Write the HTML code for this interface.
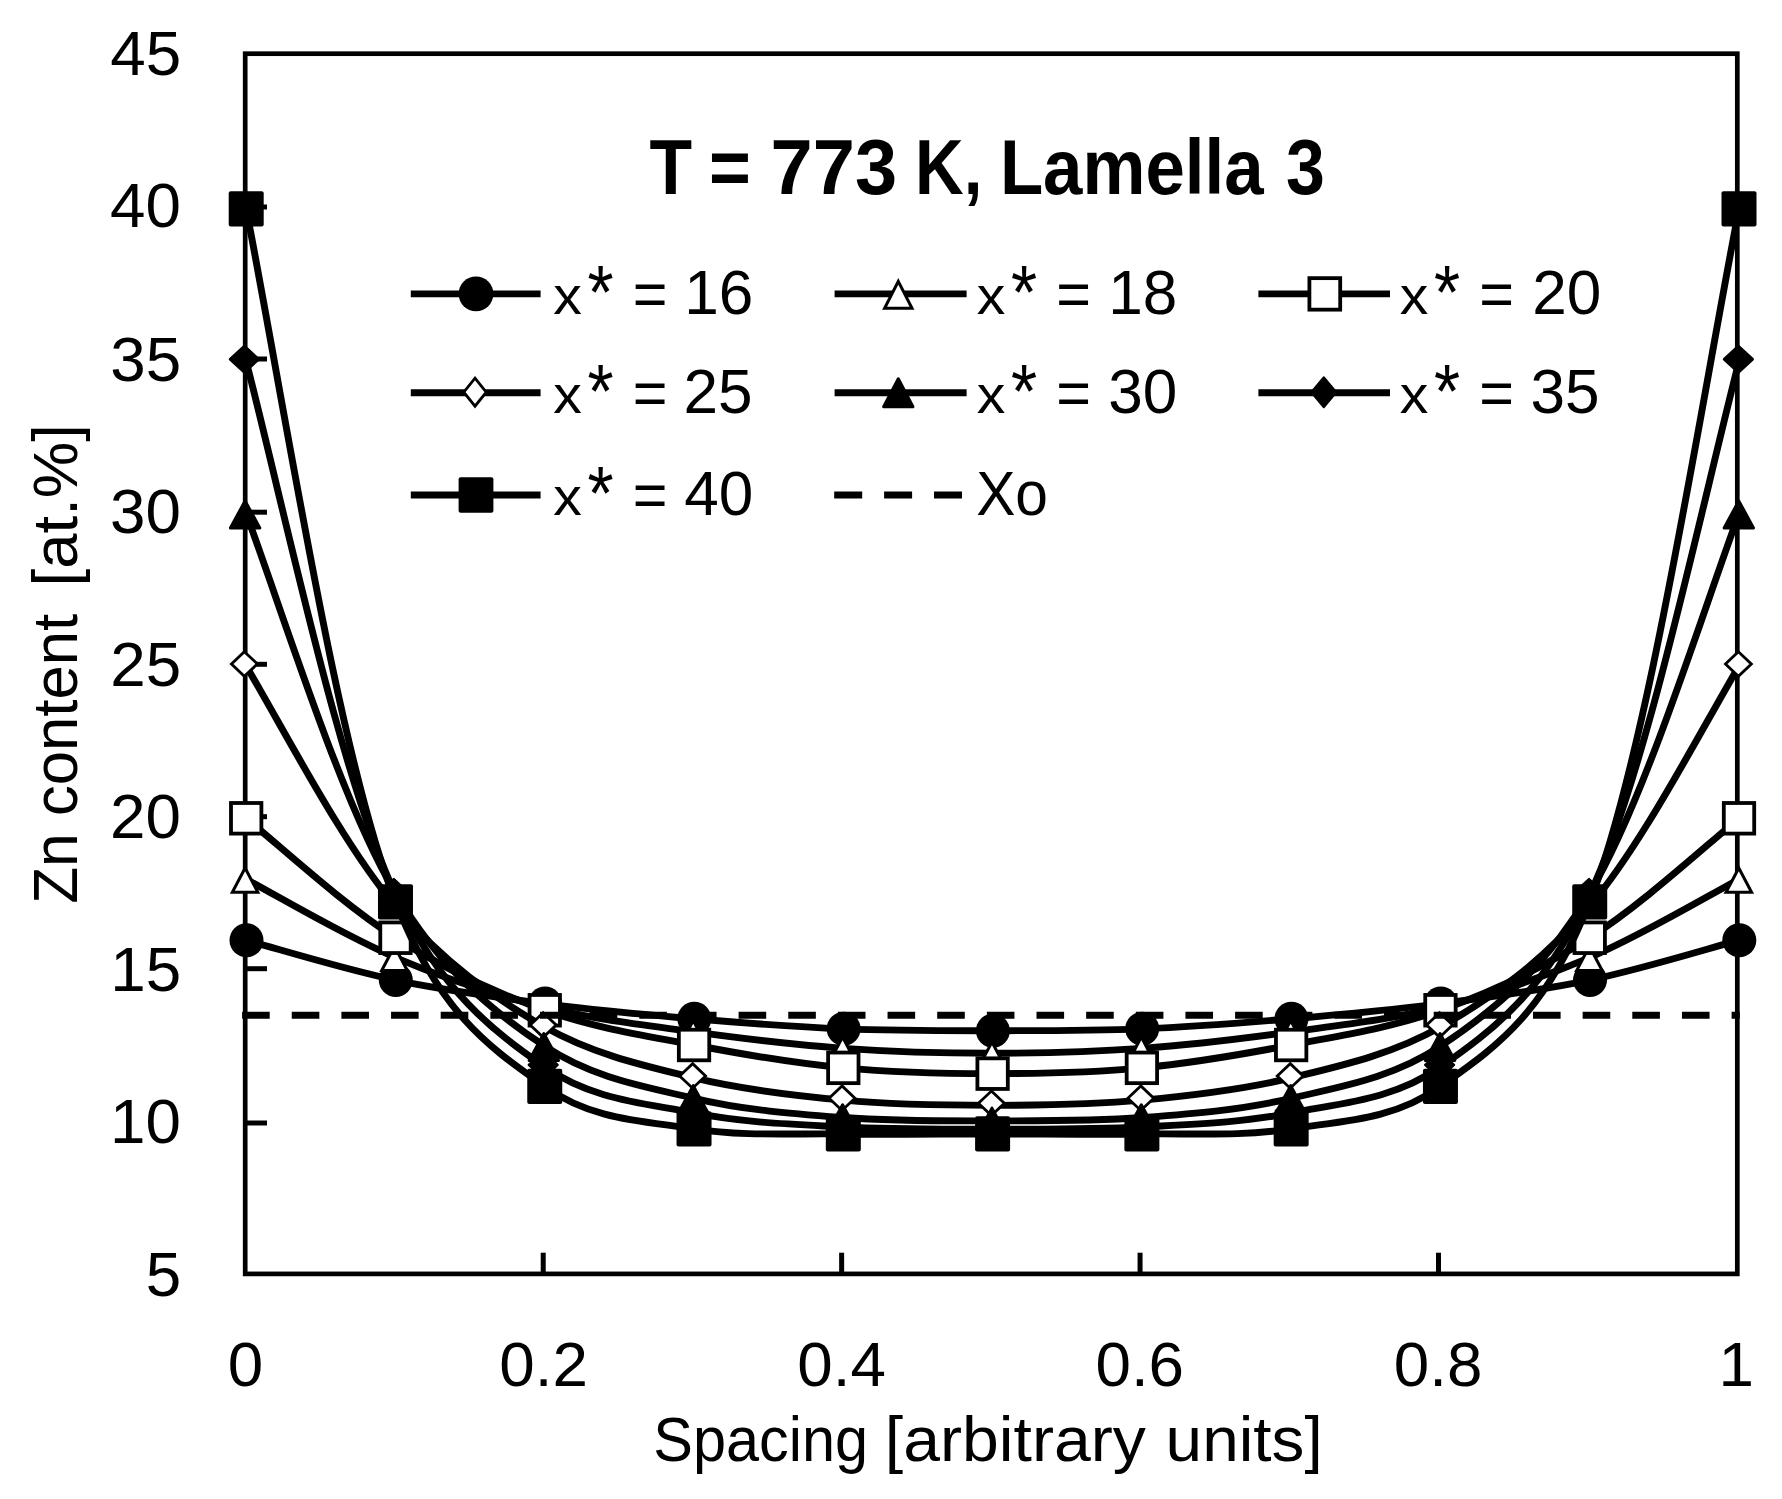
<!DOCTYPE html>
<html lang="en">
<head>
<meta charset="utf-8">
<title>T = 773 K, Lamella 3</title>
<style>html,body{margin:0;padding:0;background:#fff}svg{display:block}</style>
</head>
<body>
<svg width="1782" height="1499" viewBox="0 0 1782 1499">
<rect width="1782" height="1499" fill="#fff"/>
<rect x="245.2" y="53.7" width="1492.1" height="1220.2" fill="none" stroke="#000" stroke-width="4.7"/>
<g stroke="#000" stroke-width="5" fill="none"><path d="M245.2 207H267"/><path d="M245.2 359H267"/><path d="M245.2 512.2H267"/><path d="M245.2 664.3H267"/><path d="M245.2 816.7H267"/><path d="M245.2 968.7H267"/><path d="M245.2 1123H267"/><path d="M543.22 1273.9V1252.7"/><path d="M841.64 1273.9V1252.7"/><path d="M1140.06 1273.9V1252.7"/><path d="M1438.48 1273.9V1252.7"/></g>
<g><path d="M246.2 940.18C287.65 951.72 345.6 969.52 395.48 980.1C445.12 990.62 494.96 997.11 544.76 1003.56C594.48 1010 644.26 1014.58 694.04 1018.79C743.78 1023.01 793.55 1026.87 843.32 1028.85C893.07 1030.83 942.84 1030.68 992.6 1030.68C1042.36 1030.68 1092.13 1030.83 1141.88 1028.85C1191.65 1026.87 1241.42 1023.01 1291.16 1018.79C1340.94 1014.58 1390.72 1010 1440.44 1003.56C1490.24 997.11 1540.08 990.62 1589.72 980.1C1639.6 969.52 1697.55 951.72 1739 940.18" fill="none" stroke="#000" stroke-width="6.9" stroke-linejoin="round" stroke-linecap="round"/>
<circle cx="246.5" cy="940.18" r="17" fill="#000"/>
<circle cx="395.78" cy="980.1" r="17" fill="#000"/>
<circle cx="545.06" cy="1003.56" r="17" fill="#000"/>
<circle cx="694.34" cy="1018.79" r="17" fill="#000"/>
<circle cx="843.62" cy="1028.85" r="17" fill="#000"/>
<circle cx="992.9" cy="1030.68" r="17" fill="#000"/>
<circle cx="1142.18" cy="1028.85" r="17" fill="#000"/>
<circle cx="1291.46" cy="1018.79" r="17" fill="#000"/>
<circle cx="1440.74" cy="1003.56" r="17" fill="#000"/>
<circle cx="1590.02" cy="980.1" r="17" fill="#000"/>
<circle cx="1739.3" cy="940.18" r="17" fill="#000"/>
</g>
<g><path d="M246.2 879.24C287.6 901.77 345.34 936.13 395.48 957.55C444.87 978.65 494.78 994.81 544.76 1007.21C594.31 1019.52 644.24 1025.04 694.04 1031.89C743.76 1038.74 793.53 1044.79 843.32 1048.35C893.05 1051.9 942.84 1053.22 992.6 1053.22C1042.36 1053.22 1092.15 1051.9 1141.88 1048.35C1191.67 1044.79 1241.44 1038.74 1291.16 1031.89C1340.96 1025.04 1390.89 1019.52 1440.44 1007.21C1490.42 994.81 1540.33 978.65 1589.72 957.55C1639.86 936.13 1697.6 901.77 1739 879.24" fill="none" stroke="#000" stroke-width="6.9" stroke-linejoin="round" stroke-linecap="round"/>
<polygon points="245.1,868 257.86,892.19 232.34,892.19" fill="#fff" stroke="#000" stroke-width="3" stroke-linejoin="miter"/>
<polygon points="394.47,946.31 407.23,970.5 381.71,970.5" fill="#fff" stroke="#000" stroke-width="3" stroke-linejoin="miter"/>
<polygon points="543.84,995.98 556.6,1020.16 531.08,1020.16" fill="#fff" stroke="#000" stroke-width="3" stroke-linejoin="miter"/>
<polygon points="693.21,1020.66 705.97,1044.84 680.45,1044.84" fill="#fff" stroke="#000" stroke-width="3" stroke-linejoin="miter"/>
<polygon points="842.58,1037.11 855.34,1061.3 829.82,1061.3" fill="#fff" stroke="#000" stroke-width="3" stroke-linejoin="miter"/>
<polygon points="991.95,1041.99 1004.71,1066.17 979.19,1066.17" fill="#fff" stroke="#000" stroke-width="3" stroke-linejoin="miter"/>
<polygon points="1141.32,1037.11 1154.08,1061.3 1128.56,1061.3" fill="#fff" stroke="#000" stroke-width="3" stroke-linejoin="miter"/>
<polygon points="1290.69,1020.66 1303.45,1044.84 1277.93,1044.84" fill="#fff" stroke="#000" stroke-width="3" stroke-linejoin="miter"/>
<polygon points="1440.06,995.98 1452.82,1020.16 1427.3,1020.16" fill="#fff" stroke="#000" stroke-width="3" stroke-linejoin="miter"/>
<polygon points="1589.43,946.31 1602.19,970.5 1576.67,970.5" fill="#fff" stroke="#000" stroke-width="3" stroke-linejoin="miter"/>
<polygon points="1738.8,868 1751.56,892.19 1726.04,892.19" fill="#fff" stroke="#000" stroke-width="3" stroke-linejoin="miter"/>
</g>
<g><path d="M246.2 818.3C287.53 852.74 344.92 905.48 395.48 937.74C444.49 969.01 494.56 992.34 544.76 1010.26C594.09 1027.87 644.2 1035.39 694.04 1045C743.72 1054.57 793.5 1063.08 843.32 1067.85C893.02 1072.61 942.84 1073.64 992.6 1073.64C1042.36 1073.64 1092.18 1072.61 1141.88 1067.85C1191.7 1063.08 1241.48 1054.57 1291.16 1045C1341 1035.39 1391.11 1027.87 1440.44 1010.26C1490.64 992.34 1540.71 969.01 1589.72 937.74C1640.28 905.48 1697.67 852.74 1739 818.3" fill="none" stroke="#000" stroke-width="6.9" stroke-linejoin="round" stroke-linecap="round"/>
<rect x="231" y="803" width="30.4" height="30.6" fill="#fff" stroke="#000" stroke-width="3.8"/>
<rect x="380.28" y="922.44" width="30.4" height="30.6" fill="#fff" stroke="#000" stroke-width="3.8"/>
<rect x="529.56" y="994.96" width="30.4" height="30.6" fill="#fff" stroke="#000" stroke-width="3.8"/>
<rect x="678.84" y="1029.7" width="30.4" height="30.6" fill="#fff" stroke="#000" stroke-width="3.8"/>
<rect x="828.12" y="1052.55" width="30.4" height="30.6" fill="#fff" stroke="#000" stroke-width="3.8"/>
<rect x="977.4" y="1058.34" width="30.4" height="30.6" fill="#fff" stroke="#000" stroke-width="3.8"/>
<rect x="1126.68" y="1052.55" width="30.4" height="30.6" fill="#fff" stroke="#000" stroke-width="3.8"/>
<rect x="1275.96" y="1029.7" width="30.4" height="30.6" fill="#fff" stroke="#000" stroke-width="3.8"/>
<rect x="1425.24" y="994.96" width="30.4" height="30.6" fill="#fff" stroke="#000" stroke-width="3.8"/>
<rect x="1574.52" y="922.44" width="30.4" height="30.6" fill="#fff" stroke="#000" stroke-width="3.8"/>
<rect x="1723.8" y="803" width="30.4" height="30.6" fill="#fff" stroke="#000" stroke-width="3.8"/>
</g>
<g><path d="M246.2 665.95C287.28 735.78 343.42 844.85 395.48 906.05C443.3 962.27 493.87 998.25 544.76 1027.02C593.49 1054.57 644.04 1065.7 694.04 1077.9C743.56 1089.99 793.5 1095.58 843.32 1100.15C893.02 1104.71 942.84 1105.33 992.6 1105.33C1042.36 1105.33 1092.18 1104.71 1141.88 1100.15C1191.7 1095.58 1241.64 1089.99 1291.16 1077.9C1341.16 1065.7 1391.71 1054.57 1440.44 1027.02C1491.33 998.25 1541.9 962.27 1589.72 906.05C1641.78 844.85 1697.92 735.78 1739 665.95" fill="none" stroke="#000" stroke-width="6.9" stroke-linejoin="round" stroke-linecap="round"/>
<polygon points="244.4,651.68 257.36,663.95 244.4,676.22 231.44,663.95" fill="#fff" stroke="#000" stroke-width="2.8" stroke-linejoin="miter"/>
<polygon points="393.8,891.78 406.76,904.05 393.8,916.33 380.84,904.05" fill="#fff" stroke="#000" stroke-width="2.8" stroke-linejoin="miter"/>
<polygon points="543.2,1012.75 556.16,1025.02 543.2,1037.29 530.24,1025.02" fill="#fff" stroke="#000" stroke-width="2.8" stroke-linejoin="miter"/>
<polygon points="692.6,1063.63 705.56,1075.9 692.6,1088.18 679.64,1075.9" fill="#fff" stroke="#000" stroke-width="2.8" stroke-linejoin="miter"/>
<polygon points="842,1085.88 854.96,1098.15 842,1110.42 829.04,1098.15" fill="#fff" stroke="#000" stroke-width="2.8" stroke-linejoin="miter"/>
<polygon points="991.4,1091.06 1004.36,1103.33 991.4,1115.6 978.44,1103.33" fill="#fff" stroke="#000" stroke-width="2.8" stroke-linejoin="miter"/>
<polygon points="1140.8,1085.88 1153.76,1098.15 1140.8,1110.42 1127.84,1098.15" fill="#fff" stroke="#000" stroke-width="2.8" stroke-linejoin="miter"/>
<polygon points="1290.2,1063.63 1303.16,1075.9 1290.2,1088.18 1277.24,1075.9" fill="#fff" stroke="#000" stroke-width="2.8" stroke-linejoin="miter"/>
<polygon points="1439.6,1012.75 1452.56,1025.02 1439.6,1037.29 1426.64,1025.02" fill="#fff" stroke="#000" stroke-width="2.8" stroke-linejoin="miter"/>
<polygon points="1589,891.78 1601.96,904.05 1589,916.33 1576.04,904.05" fill="#fff" stroke="#000" stroke-width="2.8" stroke-linejoin="miter"/>
<polygon points="1738.4,651.68 1751.36,663.95 1738.4,676.22 1725.44,663.95" fill="#fff" stroke="#000" stroke-width="2.8" stroke-linejoin="miter"/>
</g>
<g><path d="M246.2 513.6C286.99 625.01 341.66 802.68 395.48 892.95C442.18 971.28 493.23 1011.93 544.76 1046.22C592.97 1078.29 644.01 1086.43 694.04 1098.32C743.53 1110.08 793.52 1113.76 843.32 1117.52C893.04 1121.27 942.84 1120.87 992.6 1120.87C1042.36 1120.87 1092.16 1121.27 1141.88 1117.52C1191.68 1113.76 1241.67 1110.08 1291.16 1098.32C1341.19 1086.43 1392.23 1078.29 1440.44 1046.22C1491.97 1011.93 1543.02 971.28 1589.72 892.95C1643.54 802.68 1698.21 625.01 1739 513.6" fill="none" stroke="#000" stroke-width="6.9" stroke-linejoin="round" stroke-linecap="round"/>
<polygon points="245.1,500.9 259.8,527.9 230.4,527.9" fill="#000" stroke="#000" stroke-width="3" stroke-linejoin="round"/>
<polygon points="394.47,880.25 409.17,907.25 379.77,907.25" fill="#000" stroke="#000" stroke-width="3" stroke-linejoin="round"/>
<polygon points="543.84,1033.52 558.54,1060.52 529.14,1060.52" fill="#000" stroke="#000" stroke-width="3" stroke-linejoin="round"/>
<polygon points="693.21,1085.62 707.91,1112.62 678.51,1112.62" fill="#000" stroke="#000" stroke-width="3" stroke-linejoin="round"/>
<polygon points="842.58,1104.82 857.28,1131.82 827.88,1131.82" fill="#000" stroke="#000" stroke-width="3" stroke-linejoin="round"/>
<polygon points="991.95,1108.17 1006.65,1135.17 977.25,1135.17" fill="#000" stroke="#000" stroke-width="3" stroke-linejoin="round"/>
<polygon points="1141.32,1104.82 1156.02,1131.82 1126.62,1131.82" fill="#000" stroke="#000" stroke-width="3" stroke-linejoin="round"/>
<polygon points="1290.69,1085.62 1305.39,1112.62 1275.99,1112.62" fill="#000" stroke="#000" stroke-width="3" stroke-linejoin="round"/>
<polygon points="1440.06,1033.52 1454.76,1060.52 1425.36,1060.52" fill="#000" stroke="#000" stroke-width="3" stroke-linejoin="round"/>
<polygon points="1589.43,880.25 1604.13,907.25 1574.73,907.25" fill="#000" stroke="#000" stroke-width="3" stroke-linejoin="round"/>
<polygon points="1738.8,500.9 1753.5,527.9 1724.1,527.9" fill="#000" stroke="#000" stroke-width="3" stroke-linejoin="round"/>
</g>
<g><path d="M246.2 361.25C286.69 519.23 339.84 775.91 395.48 894.47C441.26 992.02 492.75 1030.71 544.76 1066.94C592.61 1100.27 644.05 1102.94 694.04 1112.94C743.58 1122.86 793.54 1124.27 843.32 1126.96C893.06 1129.65 942.84 1129.09 992.6 1129.09C1042.36 1129.09 1092.14 1129.65 1141.88 1126.96C1191.66 1124.27 1241.62 1122.86 1291.16 1112.94C1341.15 1102.94 1392.59 1100.27 1440.44 1066.94C1492.45 1030.71 1543.94 992.02 1589.72 894.47C1645.36 775.91 1698.51 519.23 1739 361.25" fill="none" stroke="#000" stroke-width="6.9" stroke-linejoin="round" stroke-linecap="round"/>
<polygon points="244.4,345.85 258.8,359.25 244.4,372.65 230,359.25" fill="#000" stroke="#000" stroke-width="2.4" stroke-linejoin="round"/>
<polygon points="393.8,879.07 408.2,892.47 393.8,905.87 379.4,892.47" fill="#000" stroke="#000" stroke-width="2.4" stroke-linejoin="round"/>
<polygon points="543.2,1051.54 557.6,1064.94 543.2,1078.34 528.8,1064.94" fill="#000" stroke="#000" stroke-width="2.4" stroke-linejoin="round"/>
<polygon points="692.6,1097.54 707,1110.94 692.6,1124.34 678.2,1110.94" fill="#000" stroke="#000" stroke-width="2.4" stroke-linejoin="round"/>
<polygon points="842,1111.56 856.4,1124.96 842,1138.36 827.6,1124.96" fill="#000" stroke="#000" stroke-width="2.4" stroke-linejoin="round"/>
<polygon points="991.4,1113.69 1005.8,1127.09 991.4,1140.49 977,1127.09" fill="#000" stroke="#000" stroke-width="2.4" stroke-linejoin="round"/>
<polygon points="1140.8,1111.56 1155.2,1124.96 1140.8,1138.36 1126.4,1124.96" fill="#000" stroke="#000" stroke-width="2.4" stroke-linejoin="round"/>
<polygon points="1290.2,1097.54 1304.6,1110.94 1290.2,1124.34 1275.8,1110.94" fill="#000" stroke="#000" stroke-width="2.4" stroke-linejoin="round"/>
<polygon points="1439.6,1051.54 1454,1064.94 1439.6,1078.34 1425.2,1064.94" fill="#000" stroke="#000" stroke-width="2.4" stroke-linejoin="round"/>
<polygon points="1589,879.07 1603.4,892.47 1589,905.87 1574.6,892.47" fill="#000" stroke="#000" stroke-width="2.4" stroke-linejoin="round"/>
<polygon points="1738.4,345.85 1752.8,359.25 1738.4,372.65 1724,359.25" fill="#000" stroke="#000" stroke-width="2.4" stroke-linejoin="round"/>
</g>
<g><path d="M246.2 208.9C286.4 415.61 338.14 756.3 395.48 901.79C440.56 1016.16 492.44 1048.99 544.76 1086.44C592.4 1120.54 644.07 1120.89 694.04 1128.79C743.59 1136.63 793.56 1133.11 843.32 1133.97C893.08 1134.83 942.84 1133.97 992.6 1133.97C1042.36 1133.97 1092.12 1134.83 1141.88 1133.97C1191.64 1133.11 1241.61 1136.63 1291.16 1128.79C1341.13 1120.89 1392.8 1120.54 1440.44 1086.44C1492.76 1048.99 1544.64 1016.16 1589.72 901.79C1647.06 756.3 1698.8 415.61 1739 208.9" fill="none" stroke="#000" stroke-width="6.9" stroke-linejoin="round" stroke-linecap="round"/>
<rect x="228.7" y="191.3" width="35" height="35.2" rx="2" fill="#000"/>
<rect x="377.98" y="884.19" width="35" height="35.2" rx="2" fill="#000"/>
<rect x="527.26" y="1068.84" width="35" height="35.2" rx="2" fill="#000"/>
<rect x="676.54" y="1111.19" width="35" height="35.2" rx="2" fill="#000"/>
<rect x="825.82" y="1116.37" width="35" height="35.2" rx="2" fill="#000"/>
<rect x="975.1" y="1116.37" width="35" height="35.2" rx="2" fill="#000"/>
<rect x="1124.38" y="1116.37" width="35" height="35.2" rx="2" fill="#000"/>
<rect x="1273.66" y="1111.19" width="35" height="35.2" rx="2" fill="#000"/>
<rect x="1422.94" y="1068.84" width="35" height="35.2" rx="2" fill="#000"/>
<rect x="1572.22" y="884.19" width="35" height="35.2" rx="2" fill="#000"/>
<rect x="1721.5" y="191.3" width="35" height="35.2" rx="2" fill="#000"/>
</g>
<path d="M242.1 1015.25H1739.8" fill="none" stroke="#000" stroke-width="6.9" stroke-dasharray="27.6 22.05"/>
<text font-family="Liberation Sans, sans-serif" font-size="63" font-weight="400" fill="#000" y="1461"><tspan x="653.37" textLength="214.77" lengthAdjust="spacingAndGlyphs">Spacing</tspan> <tspan x="884.88" textLength="260.95" lengthAdjust="spacingAndGlyphs">[arbitrary</tspan> <tspan x="1165.63" textLength="157.06" lengthAdjust="spacingAndGlyphs">units]</tspan></text>
<text transform="translate(77.2 0) rotate(-90)" font-family="Liberation Sans, sans-serif" font-size="63" font-weight="400" fill="#000" y="0"><tspan x="-903.82" textLength="70.48" lengthAdjust="spacingAndGlyphs">Zn</tspan> <tspan x="-816.09" textLength="202.2" lengthAdjust="spacingAndGlyphs">content</tspan> <tspan x="-586.44" textLength="162.35" lengthAdjust="spacingAndGlyphs">[at.%]</tspan></text>
<path d="M410.8 293.9H540.6" fill="none" stroke="#000" stroke-width="6.9"/>
<circle cx="476" cy="293.9" r="17.4" fill="#000"/>
<text font-family="Liberation Sans, sans-serif" font-size="63" font-weight="400" fill="#000" y="313.7"><tspan x="553.21" textLength="28.59" lengthAdjust="spacingAndGlyphs" font-size="54">x</tspan><tspan x="587.49" textLength="26.12" lengthAdjust="spacingAndGlyphs" font-size="75.43" dy="4.4">*</tspan> <tspan x="632.77" textLength="34.7" lengthAdjust="spacingAndGlyphs" dy="-2.45">=</tspan> <tspan x="684.16" textLength="69.03" lengthAdjust="spacingAndGlyphs" dy="-1.95">16</tspan></text>
<path d="M834.6 293.9H966.6" fill="none" stroke="#000" stroke-width="6.9"/>
<polygon points="898.3,281.31 912.01,308.3 884.59,308.3" fill="#fff" stroke="#000" stroke-width="3" stroke-linejoin="miter"/>
<text font-family="Liberation Sans, sans-serif" font-size="63" font-weight="400" fill="#000" y="313.7"><tspan x="976.81" textLength="28.59" lengthAdjust="spacingAndGlyphs" font-size="54">x</tspan><tspan x="1011.09" textLength="26.12" lengthAdjust="spacingAndGlyphs" font-size="75.43" dy="4.4">*</tspan> <tspan x="1056.37" textLength="34.7" lengthAdjust="spacingAndGlyphs" dy="-2.45">=</tspan> <tspan x="1108.16" textLength="69.03" lengthAdjust="spacingAndGlyphs" dy="-1.95">18</tspan></text>
<path d="M1258.4 293.9H1390" fill="none" stroke="#000" stroke-width="6.9"/>
<rect x="1309.4" y="278.15" width="30.8" height="31.5" fill="#fff" stroke="#000" stroke-width="3.8"/>
<text font-family="Liberation Sans, sans-serif" font-size="63" font-weight="400" fill="#000" y="313.7"><tspan x="1399.71" textLength="28.59" lengthAdjust="spacingAndGlyphs" font-size="54">x</tspan><tspan x="1433.99" textLength="26.12" lengthAdjust="spacingAndGlyphs" font-size="75.43" dy="4.4">*</tspan> <tspan x="1479.27" textLength="34.7" lengthAdjust="spacingAndGlyphs" dy="-2.45">=</tspan> <tspan x="1532.37" textLength="69.03" lengthAdjust="spacingAndGlyphs" dy="-1.95">20</tspan></text>
<path d="M410.8 392.8H540.6" fill="none" stroke="#000" stroke-width="6.9"/>
<polygon points="475,378.19 486.21,392.2 475,406.21 463.79,392.2" fill="#fff" stroke="#000" stroke-width="2.8" stroke-linejoin="miter"/>
<text font-family="Liberation Sans, sans-serif" font-size="63" font-weight="400" fill="#000" y="412.6"><tspan x="553.21" textLength="28.59" lengthAdjust="spacingAndGlyphs" font-size="54">x</tspan><tspan x="587.49" textLength="26.12" lengthAdjust="spacingAndGlyphs" font-size="75.43" dy="4.4">*</tspan> <tspan x="632.77" textLength="34.7" lengthAdjust="spacingAndGlyphs" dy="-2.45">=</tspan> <tspan x="683.51" textLength="69.03" lengthAdjust="spacingAndGlyphs" dy="-1.95">25</tspan></text>
<path d="M834.6 392.8H966.6" fill="none" stroke="#000" stroke-width="6.9"/>
<polygon points="898.3,378.8 912.95,406.8 883.65,406.8" fill="#000" stroke="#000" stroke-width="3" stroke-linejoin="round"/>
<text font-family="Liberation Sans, sans-serif" font-size="63" font-weight="400" fill="#000" y="412.6"><tspan x="976.81" textLength="28.59" lengthAdjust="spacingAndGlyphs" font-size="54">x</tspan><tspan x="1011.09" textLength="26.12" lengthAdjust="spacingAndGlyphs" font-size="75.43" dy="4.4">*</tspan> <tspan x="1056.37" textLength="34.7" lengthAdjust="spacingAndGlyphs" dy="-2.45">=</tspan> <tspan x="1108.27" textLength="69.03" lengthAdjust="spacingAndGlyphs" dy="-1.95">30</tspan></text>
<path d="M1258.4 392.8H1390" fill="none" stroke="#000" stroke-width="6.9"/>
<polygon points="1323.8,377.4 1336.1,392.2 1323.8,407 1311.5,392.2" fill="#000" stroke="#000" stroke-width="2.4" stroke-linejoin="round"/>
<text font-family="Liberation Sans, sans-serif" font-size="63" font-weight="400" fill="#000" y="412.6"><tspan x="1399.71" textLength="28.59" lengthAdjust="spacingAndGlyphs" font-size="54">x</tspan><tspan x="1433.99" textLength="26.12" lengthAdjust="spacingAndGlyphs" font-size="75.43" dy="4.4">*</tspan> <tspan x="1479.27" textLength="34.7" lengthAdjust="spacingAndGlyphs" dy="-2.45">=</tspan> <tspan x="1530.41" textLength="69.03" lengthAdjust="spacingAndGlyphs" dy="-1.95">35</tspan></text>
<path d="M410.8 495H540.6" fill="none" stroke="#000" stroke-width="6.9"/>
<rect x="458.6" y="477.25" width="34.8" height="35.5" rx="2" fill="#000"/>
<text font-family="Liberation Sans, sans-serif" font-size="63" font-weight="400" fill="#000" y="514.8"><tspan x="553.21" textLength="28.59" lengthAdjust="spacingAndGlyphs" font-size="54">x</tspan><tspan x="587.49" textLength="26.12" lengthAdjust="spacingAndGlyphs" font-size="75.43" dy="4.4">*</tspan> <tspan x="632.77" textLength="34.7" lengthAdjust="spacingAndGlyphs" dy="-2.45">=</tspan> <tspan x="684.27" textLength="69.03" lengthAdjust="spacingAndGlyphs" dy="-1.95">40</tspan></text>
<path d="M834.2 495H966.6" fill="none" stroke="#000" stroke-width="6.9" stroke-dasharray="28 21.9"/>
<text font-family="Liberation Sans, sans-serif" font-size="63" font-weight="400" fill="#000" y="514.8"><tspan x="976.2" textLength="71.78" lengthAdjust="spacingAndGlyphs">Xo</tspan></text>
<text font-family="Liberation Sans, sans-serif" font-size="77.2" font-weight="700" fill="#000" y="194.2"><tspan x="649.62" textLength="42.6" lengthAdjust="spacingAndGlyphs">T</tspan> <tspan x="708.98" textLength="41.88" lengthAdjust="spacingAndGlyphs">=</tspan> <tspan x="770.61" textLength="126.44" lengthAdjust="spacingAndGlyphs">773</tspan> <tspan x="915.11" textLength="67.42" lengthAdjust="spacingAndGlyphs">K,</tspan> <tspan x="999.89" textLength="263.63" lengthAdjust="spacingAndGlyphs">Lamella</tspan> <tspan x="1285.92" textLength="38.81" lengthAdjust="spacingAndGlyphs">3</tspan></text>
<text x="145.71" y="1295.65" textLength="35.47" lengthAdjust="spacingAndGlyphs" font-family="Liberation Sans, sans-serif" font-size="63" font-weight="400" fill="#000">5</text>
<text x="110.04" y="1143.12" textLength="70.92" lengthAdjust="spacingAndGlyphs" font-family="Liberation Sans, sans-serif" font-size="63" font-weight="400" fill="#000">10</text>
<text x="110.29" y="990.6" textLength="70.92" lengthAdjust="spacingAndGlyphs" font-family="Liberation Sans, sans-serif" font-size="63" font-weight="400" fill="#000">15</text>
<text x="110.04" y="838.08" textLength="70.92" lengthAdjust="spacingAndGlyphs" font-family="Liberation Sans, sans-serif" font-size="63" font-weight="400" fill="#000">20</text>
<text x="110.29" y="685.55" textLength="70.92" lengthAdjust="spacingAndGlyphs" font-family="Liberation Sans, sans-serif" font-size="63" font-weight="400" fill="#000">25</text>
<text x="110.04" y="533.02" textLength="70.92" lengthAdjust="spacingAndGlyphs" font-family="Liberation Sans, sans-serif" font-size="63" font-weight="400" fill="#000">30</text>
<text x="110.29" y="380.5" textLength="70.92" lengthAdjust="spacingAndGlyphs" font-family="Liberation Sans, sans-serif" font-size="63" font-weight="400" fill="#000">35</text>
<text x="110.04" y="227.18" textLength="70.92" lengthAdjust="spacingAndGlyphs" font-family="Liberation Sans, sans-serif" font-size="63" font-weight="400" fill="#000">40</text>
<text x="110.29" y="75.45" textLength="70.92" lengthAdjust="spacingAndGlyphs" font-family="Liberation Sans, sans-serif" font-size="63" font-weight="400" fill="#000">45</text>
<text x="227.79" y="1386.3" textLength="35.47" lengthAdjust="spacingAndGlyphs" font-family="Liberation Sans, sans-serif" font-size="63" font-weight="400" fill="#000">0</text>
<text x="499.38" y="1386.3" textLength="88.64" lengthAdjust="spacingAndGlyphs" font-family="Liberation Sans, sans-serif" font-size="63" font-weight="400" fill="#000">0.2</text>
<text x="797.35" y="1386.3" textLength="88.64" lengthAdjust="spacingAndGlyphs" font-family="Liberation Sans, sans-serif" font-size="63" font-weight="400" fill="#000">0.4</text>
<text x="1095.45" y="1386.3" textLength="88.64" lengthAdjust="spacingAndGlyphs" font-family="Liberation Sans, sans-serif" font-size="63" font-weight="400" fill="#000">0.6</text>
<text x="1393.75" y="1386.3" textLength="88.64" lengthAdjust="spacingAndGlyphs" font-family="Liberation Sans, sans-serif" font-size="63" font-weight="400" fill="#000">0.8</text>
<text x="1718.6" y="1386.3" textLength="35.47" lengthAdjust="spacingAndGlyphs" font-family="Liberation Sans, sans-serif" font-size="63" font-weight="400" fill="#000">1</text>
</svg>
</body>
</html>
